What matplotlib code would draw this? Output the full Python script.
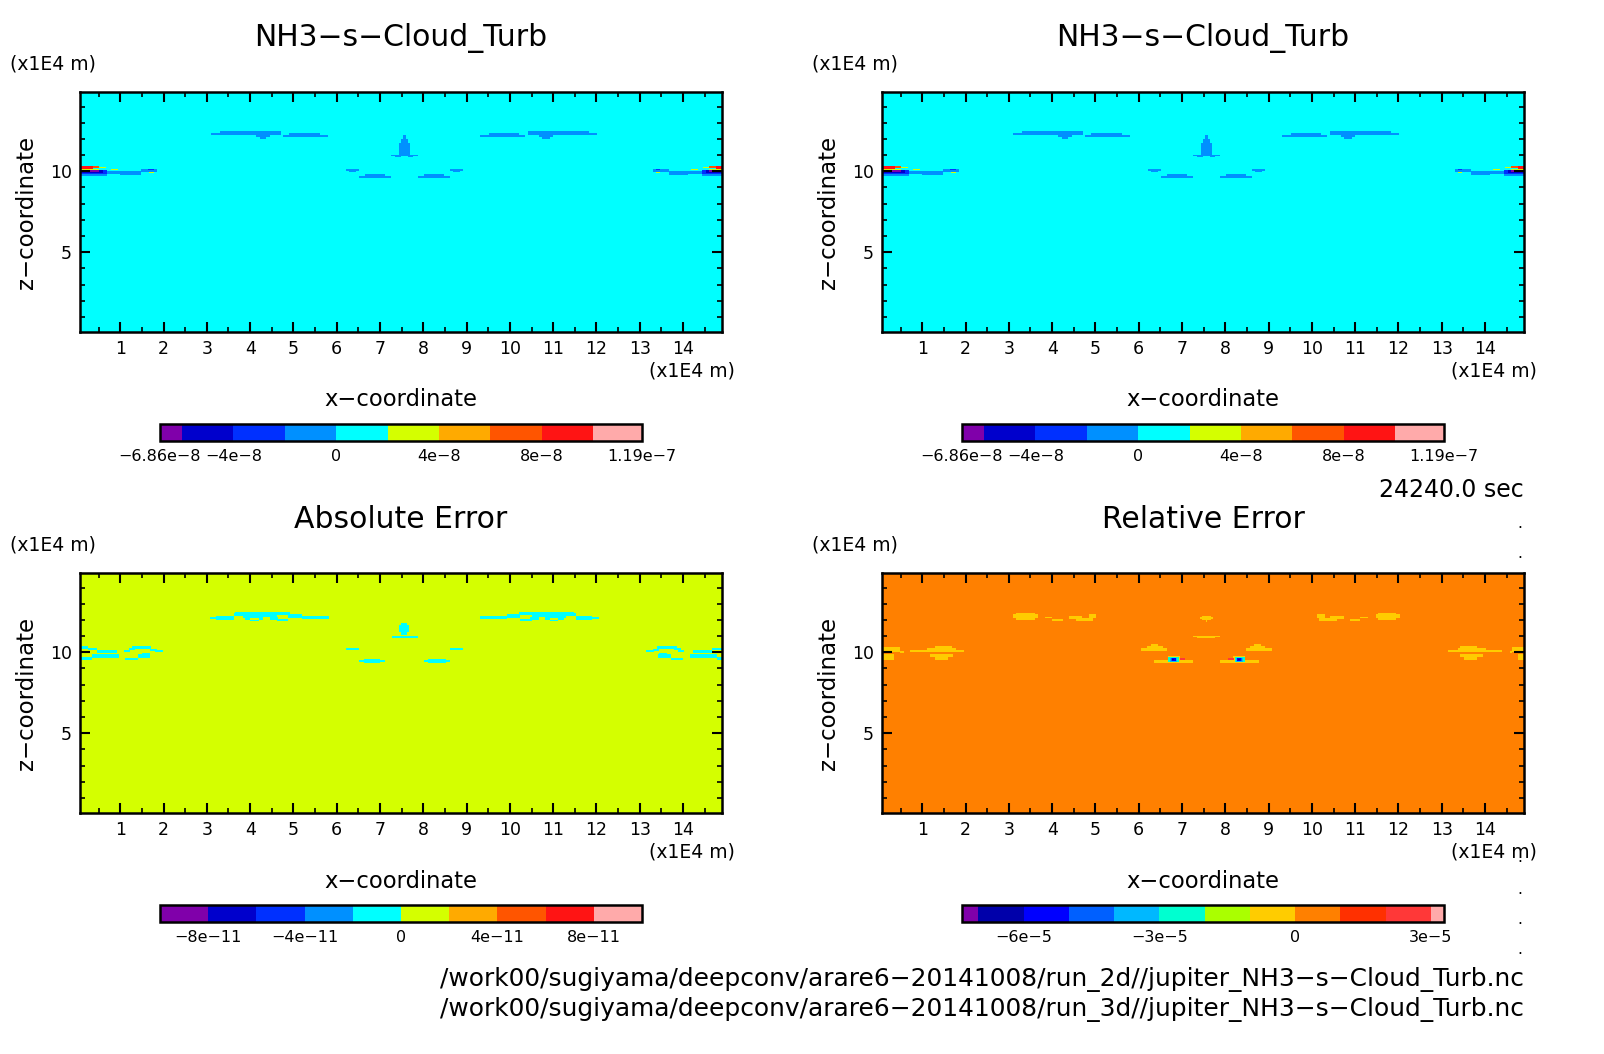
import numpy as np
import matplotlib
matplotlib.use("Agg")
import matplotlib.pyplot as plt
from matplotlib.colors import ListedColormap, BoundaryNorm

W, H = 1604, 1054
plt.rcParams['font.family'] = ['DejaVu Sans']
MIRROR = 15.13  # the cloud field is symmetric about x = 7.565

# contour levels and colours of each colour bar
levels_a = [-6.86e-8, -6e-8, -4e-8, -2e-8, 0, 2e-8, 4e-8, 6e-8, 8e-8, 1e-7, 1.19e-7]
levels_abs = [-1e-10, -8e-11, -6e-11, -4e-11, -2e-11, 0, 2e-11, 4e-11, 6e-11, 8e-11, 1e-10]
levels_rel = [-7.36e-5, -7e-5, -6e-5, -5e-5, -4e-5, -3e-5, -2e-5, -1e-5, 0, 1e-5, 2e-5, 3e-5, 3.29e-5]
colors_10 = ['#8000aa', '#0000cc', '#0030ff', '#0090ff', '#00ffff', '#d4ff00', '#ffaa00', '#ff5500', '#ff1414', '#ffaaaa']
colors_12 = ['#8000aa', '#0000aa', '#0000ff', '#0060ff', '#00b8ff', '#00ffd0', '#aaff00', '#ffcc00', '#ff8000', '#ff3000', '#ff3838', '#ffaaaa']

ticks_a = [-6.86e-8, -4e-8, 0, 4e-8, 8e-8, 1.19e-7]
ticklabels_a = ['−6.86e−8', '−4e−8', '0', '4e−8', '8e−8', '1.19e−7']
ticks_abs = [-8e-11, -4e-11, 0, 4e-11, 8e-11]
ticklabels_abs = ['−8e−11', '−4e−11', '0', '4e−11', '8e−11']
ticks_rel = [-6e-5, -3e-5, 0, 3e-5]
ticklabels_rel = ['−6e−5', '−3e−5', '0', '3e−5']

# background values of the fields
background_a = 1e-8
background_abs = 1e-11
background_rel = 5e-6

# (x0, x1, z0, z1, value), x and z in 1E4 m; painted in order
spans_a = [
    (3.10, 3.30, 12.25, 12.40, -1e-8), (3.30, 4.71, 12.25, 12.50, -1e-8),
    (4.14, 4.46, 12.10, 12.25, -1e-8), (4.22, 4.38, 12.03, 12.10, -1e-8),
    (4.78, 4.90, 12.15, 12.28, -1e-8), (4.90, 5.61, 12.10, 12.35, -1e-8), (5.61, 5.80, 12.10, 12.28, -1e-8),
    (7.44, 7.69, 11.00, 11.71, -1e-8), (7.49, 7.64, 11.71, 12.02, -1e-8), (7.53, 7.60, 12.02, 12.22, -1e-8),
    (7.25, 7.85, 10.93, 11.00, -1e-8), (7.35, 7.49, 10.87, 10.93, -1e-8),
    (6.21, 6.51, 10.04, 10.12, -1e-8), (6.29, 6.44, 9.94, 10.04, -1e-8),
    (6.65, 7.12, 9.69, 9.82, -1e-8), (6.51, 7.25, 9.57, 9.69, -1e-8),
    (0.07, 0.69, 9.69, 10.10, -1e-8), (0.69, 1.00, 9.85, 10.02, -1e-8),
    (1.00, 1.46, 9.79, 10.00, -1e-8), (1.46, 1.84, 9.96, 10.16, -1e-8),
    (0.07, 0.69, 9.82, 10.10, -3e-8), (0.07, 0.60, 9.90, 10.10, -5e-8),
    (0.27, 0.53, 9.95, 10.07, -6.5e-8), (0.07, 0.30, 9.94, 10.10, -8e-8),
    (0.07, 0.36, 10.16, 10.35, 9e-8), (0.36, 0.53, 10.20, 10.35, 7e-8),
    (0.07, 0.53, 10.10, 10.16, 3e-8), (0.53, 0.66, 10.22, 10.30, 3e-8),
    (0.79, 0.94, 10.08, 10.13, 3e-8), (1.67, 1.77, 9.90, 9.96, 3e-8),
    (1.65, 1.77, 10.08, 10.14, -3e-8),
]
spans_abs = [
    (0.07, 0.24, 10.23, 10.37, -1e-11), (0.24, 0.46, 10.12, 10.29, -1e-11), (0.46, 0.92, 9.96, 10.17, -1e-11),
    (0.07, 0.34, 9.53, 9.71, -1e-11), (0.34, 0.96, 9.63, 9.86, -1e-11),
    (1.10, 1.23, 10.02, 10.17, -1e-11), (1.19, 1.34, 10.12, 10.29, -1e-11), (1.27, 1.73, 10.23, 10.37, -1e-11),
    (1.69, 1.84, 10.08, 10.23, -1e-11), (1.80, 1.99, 10.02, 10.12, -1e-11),
    (1.13, 1.42, 9.55, 9.65, -1e-11), (1.42, 1.70, 9.63, 9.88, -1e-11), (1.50, 1.69, 9.88, 9.98, -1e-11),
    (3.07, 3.23, 12.04, 12.18, -1e-11), (3.23, 3.61, 12.02, 12.26, -1e-11), (3.61, 3.84, 12.22, 12.43, -1e-11),
    (3.65, 4.92, 12.30, 12.47, -1e-11), (3.84, 4.30, 12.14, 12.30, -1e-11),
    (3.88, 4.00, 12.02, 12.14, -1e-11), (4.00, 4.20, 11.94, 12.02, -1e-11), (4.20, 4.30, 12.02, 12.14, -1e-11),
    (4.30, 4.61, 12.18, 12.30, -1e-11), (4.61, 4.88, 11.91, 12.04, -1e-11), (4.46, 4.65, 12.02, 12.18, -1e-11),
    (4.88, 5.19, 12.14, 12.39, -1e-11), (5.19, 5.81, 12.06, 12.28, -1e-11),
    (6.22, 6.52, 10.17, 10.29, -1e-11), (6.52, 7.11, 9.42, 9.50, -1e-11), (6.61, 7.00, 9.32, 9.57, -1e-11),
    (7.45, 7.68, 11.25, 11.70, -1e-11), (7.50, 7.63, 11.10, 11.80, -1e-11), (7.27, 7.83, 10.90, 11.00, -1e-11),
]
spans_rel = [
    (0.07, 0.50, 10.00, 10.35, -5e-6), (0.50, 0.56, 9.95, 10.10, -5e-6),
    (0.07, 0.35, 9.52, 9.87, -5e-6), (0.07, 0.10, 9.87, 10.00, -5e-6),
    (0.73, 1.98, 10.00, 10.14, -5e-6), (1.12, 1.77, 10.00, 10.29, -5e-6), (1.30, 1.70, 10.29, 10.39, -5e-6),
    (1.18, 1.71, 9.70, 9.87, -5e-6), (1.30, 1.60, 9.52, 9.70, -5e-6),
    (3.09, 3.66, 12.15, 12.35, -5e-6), (3.18, 3.60, 12.03, 12.45, -5e-6),
    (3.84, 4.00, 12.10, 12.20, -5e-6), (4.00, 4.25, 11.95, 12.08, -5e-6),
    (4.39, 4.70, 12.05, 12.24, -5e-6), (4.55, 4.95, 11.95, 12.10, -5e-6), (4.84, 5.02, 12.10, 12.40, -5e-6),
    (7.42, 7.71, 12.06, 12.18, -5e-6), (7.48, 7.66, 11.98, 12.28, -5e-6), (7.55, 7.58, 11.85, 11.98, -5e-6),
    (7.25, 7.85, 10.95, 11.00, -5e-6), (7.35, 7.78, 10.86, 10.95, -5e-6),
    (6.05, 6.65, 10.08, 10.27, -5e-6), (6.20, 6.57, 10.08, 10.39, -5e-6), (6.30, 6.45, 10.39, 10.51, -5e-6),
    (6.35, 7.25, 9.34, 9.51, -5e-6), (6.68, 6.95, 9.51, 9.75, -5e-6),
    (6.68, 6.92, 9.38, 9.71, -2.5e-5), (6.71, 6.89, 9.42, 9.67, -3.5e-5),
    (6.74, 6.87, 9.44, 9.65, -4.5e-5), (6.76, 6.86, 9.46, 9.62, -5.5e-5), (6.78, 6.83, 9.49, 9.58, -6.5e-5),
    (6.94, 7.07, 9.55, 9.67, 2.5e-5),
]

dots_y = [526, 557, 861, 892, 923, 953]
paths = ['/work00/sugiyama/deepconv/arare6−20141008/run_2d//jupiter_NH3−s−Cloud_Turb.nc',
         '/work00/sugiyama/deepconv/arare6−20141008/run_3d//jupiter_NH3−s−Cloud_Turb.nc']

x_edges = np.arange(0.07, 14.9 + 0.01, 0.025)
z_edges = np.arange(0.07, 14.9 + 0.01, 0.025)


def make_field(background, spans):
    xc = (x_edges[:-1] + x_edges[1:]) / 2
    zc = (z_edges[:-1] + z_edges[1:]) / 2
    field = np.full((len(zc), len(xc)), background, dtype=float)
    for x0, x1, z0, z1, val in spans:
        for a, b in ((x0, x1), (MIRROR - x1, MIRROR - x0)):
            field[np.ix_((zc >= z0) & (zc < z1), (xc >= a) & (xc < b))] = val
    return field


def ftext(px, py, s, **kw):
    kw.setdefault('ha', 'center')
    kw.setdefault('va', 'center')
    return fig.text(px / W, 1 - py / H, s, **kw)


def panel(dx, dy, title, field, levels, colors, ticks, ticklabels):
    ax = fig.add_axes([(80 + dx) / W, 1 - (332 + dy) / H, 642 / W, 240 / H])
    cmap = ListedColormap(colors)
    cmap.set_under('black')
    norm = BoundaryNorm(levels, len(colors), clip=False)
    mesh = ax.pcolormesh(x_edges, z_edges, field, cmap=cmap, norm=norm, shading='flat', rasterized=True)
    ax.set_xlim(0.07, 14.9)
    ax.set_ylim(0.07, 14.9)
    ax.set_xticks(range(1, 15))
    ax.set_xticks(np.arange(0.5, 15, 1), minor=True)
    ax.set_yticks([5, 10])
    ax.set_yticks([v for v in range(1, 15) if v not in (5, 10)], minor=True)
    ax.tick_params(which='major', direction='in', length=7.2, width=1.5, top=True, right=True, labelsize=12.5, pad=6)
    ax.tick_params(which='minor', direction='in', length=3.6, width=1.2, top=True, right=True)
    for s in ax.spines.values():
        s.set_linewidth(1.8)
    ftext(401 + dx, 38 + dy, title, fontsize=21.5)
    ftext(53 + dx, 64 + dy, '(x1E4 m)', fontsize=13.5)
    ftext(692 + dx, 371 + dy, '(x1E4 m)', fontsize=13.5)
    ftext(401 + dx, 400 + dy, 'x−coordinate', fontsize=16.3)
    ftext(27 + dx, 212 + dy, 'z−coordinate', fontsize=16.5, rotation=90)
    cax = fig.add_axes([(160 + dx) / W, 1 - (441 + dy) / H, 482 / W, 17 / H])
    cb = fig.colorbar(mesh, cax=cax, orientation='horizontal', spacing='proportional', ticks=ticks)
    cb.set_ticklabels(ticklabels)
    cb.ax.minorticks_off()
    cb.ax.tick_params(length=0, labelsize=11.5, pad=6)
    cb.outline.set_linewidth(1.8)


fig = plt.figure(figsize=(W / 100, H / 100), dpi=100)

field_a = make_field(background_a, spans_a)
panel(0, 0, 'NH3−s−Cloud_Turb', field_a, levels_a, colors_10, ticks_a, ticklabels_a)
panel(802, 0, 'NH3−s−Cloud_Turb', field_a, levels_a, colors_10, ticks_a, ticklabels_a)
panel(0, 481, 'Absolute Error', make_field(background_abs, spans_abs), levels_abs, colors_10, ticks_abs, ticklabels_abs)
panel(802, 481, 'Relative Error', make_field(background_rel, spans_rel), levels_rel, colors_12, ticks_rel, ticklabels_rel)

ftext(1524, 490, '24240.0 sec', fontsize=17, ha='right')
ftext(1524, 979, paths[0], fontsize=17.9, ha='right')
ftext(1524, 1010, paths[1], fontsize=17.9, ha='right')
for y in dots_y:
    ftext(1520, y - 3, '.', fontsize=11)

fig.savefig('out.png', dpi=100)
